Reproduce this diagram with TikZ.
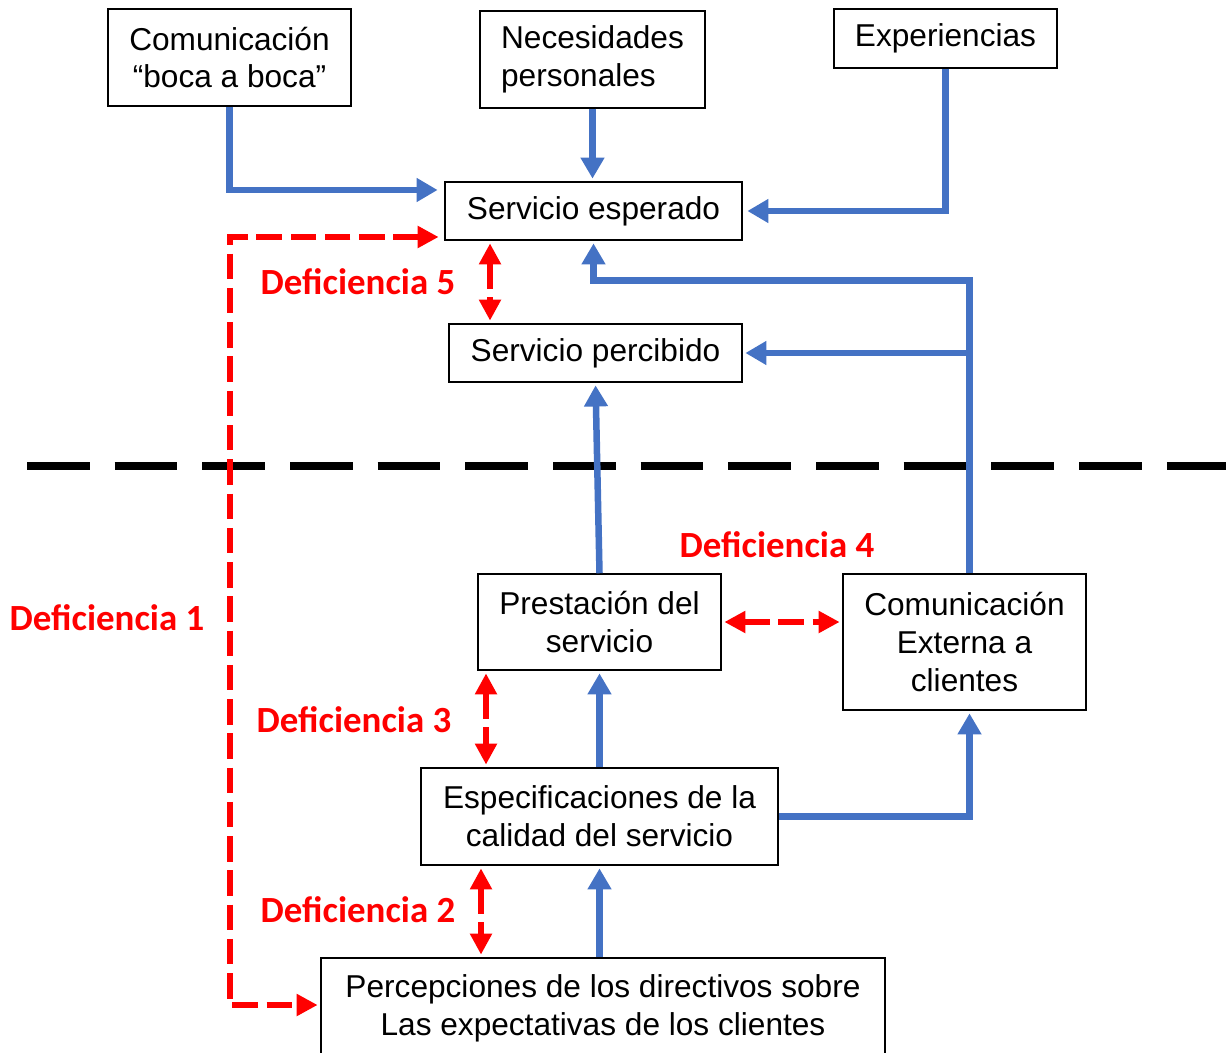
\documentclass[tikz,border=0pt]{standalone}
\usepackage{fontspec}
\setmainfont{Liberation Sans}
\newfontfamily\labelfont{Carlito}
\usetikzlibrary{arrows.meta,calc}
\definecolor{flowblue}{HTML}{4472C4}
\definecolor{gapred}{HTML}{FF0000}
\begin{document}
\begin{tikzpicture}[x=0.02cm,y=0.02cm,
  box/.style={draw, line width=0.85pt, align=center, inner sep=0pt,
    font=\fontsize{18pt}{21.5pt}\selectfont},
  wh/.style 2 args={minimum width={#1*0.02cm}, minimum height={#2*0.02cm}},
  flow/.style={draw=flowblue, line width=3.7pt, shorten >=1.5pt,
    -{Triangle[length=12pt,width=13pt]}},
  gap/.style={draw=gapred, line width=3.6pt, dash pattern=on 14.5pt off 5pt,
    shorten >=1.5pt, shorten <=1.5pt,
    {Triangle[length=12pt,width=12pt]}-{Triangle[length=12pt,width=12pt]}},
  oneway/.style={draw=gapred, line width=3.6pt, dash pattern=on 14.5pt off 5pt,
    shorten >=1.5pt, -{Triangle[length=12pt,width=12pt]}},
  gaplabel/.style={text=gapred, font=\labelfont\bfseries\fontsize{21pt}{24pt}\selectfont}]
\clip (0,0) rectangle (1226,-1053);

% boxes
\node[box, wh={243}{97}] (boca) at (229.5,-57.5)
  {Comunicación\\“boca a boca”};
\node[box, align=left, wh={225}{97}] (neces) at (592.5,-59.5)
  {Necesidades\\personales};
\node[box, wh={223}{59}] (exper) at (945.5,-38.5)
  {Experiencias};
\node[box, wh={297}{58}] (esper) at (593.5,-211)
  {Servicio esperado};
\node[box, wh={293}{58}] (perc) at (595.5,-353)
  {Servicio percibido};
\node[box, wh={243}{96}] (prest) at (599.5,-622)
  {Prestación del\\servicio};
\node[box, wh={243}{136}] (comext) at (964.5,-642)
  {Comunicación\\Externa a\\clientes};
\node[box, wh={357}{97}] (espec) at (599.5,-816.5)
  {Especificaciones de la\\calidad del servicio};
\node[box, wh={564}{100}] (percep) at (603,-1008)
  {Percepciones de los directivos sobre\\Las expectativas de los clientes};

% boundary between customer and provider
\draw[line width=4.5pt, dash pattern=on 35.7pt off 14.2pt] (27,-466) -- (1226,-466);

% blue influence connectors
\coordinate (ct) at ($(comext.north)+(5,0)$);
\coordinate (cb) at ($(comext.south)+(5,0)$);
\draw[flow] (boca.south) |- ($(esper.west)+(-4,21)$);
\draw[flow] (neces.south) -- (neces.south |- esper.north);
\draw[flow] (exper.south) |- ($(esper.east)+(2,0)$);
\draw[flow] (ct) |- ($(esper.south)+(0,-40)$) -- (esper.south);
\draw[flow] (ct |- perc.east) -- (perc.east);
\draw[flow] (prest.north) -- (perc.south);
\draw[flow] (espec.north) -- (prest.south);
\draw[flow] (espec.south |- percep.north) -- (espec.south);
\draw[flow] (espec.east) -| (cb);

% gaps
\coordinate (x5) at (490,0);
\coordinate (x3) at (486,0);
\coordinate (x2) at (481,0);
\coordinate (d1) at (230,-1005);
\draw[gap] ($(esper.west)+(-3,-26)$) -| (d1) -- (d1 -| percep.west);
\draw[gap] (x5 |- esper.south) -- (x5 |- perc.north);
\draw[gap] (prest.east) -- (comext.west |- prest.east);
\draw[gap] (x3 |- prest.south) -- (x3 |- espec.north);
\draw[gap] (x2 |- espec.south) -- (x2 |- percep.north);

% gap labels
\node[gaplabel] (g5) at (358,-282) {Deficiencia 5};
\node[gaplabel] (g4) at (777,-545) {Deficiencia 4};
\node[gaplabel] (g1) at (107,-618) {Deficiencia 1};
\node[gaplabel] (g3) at (354,-720) {Deficiencia 3};
\node[gaplabel] (g2) at (358,-910) {Deficiencia 2};
\end{tikzpicture}
\end{document}
